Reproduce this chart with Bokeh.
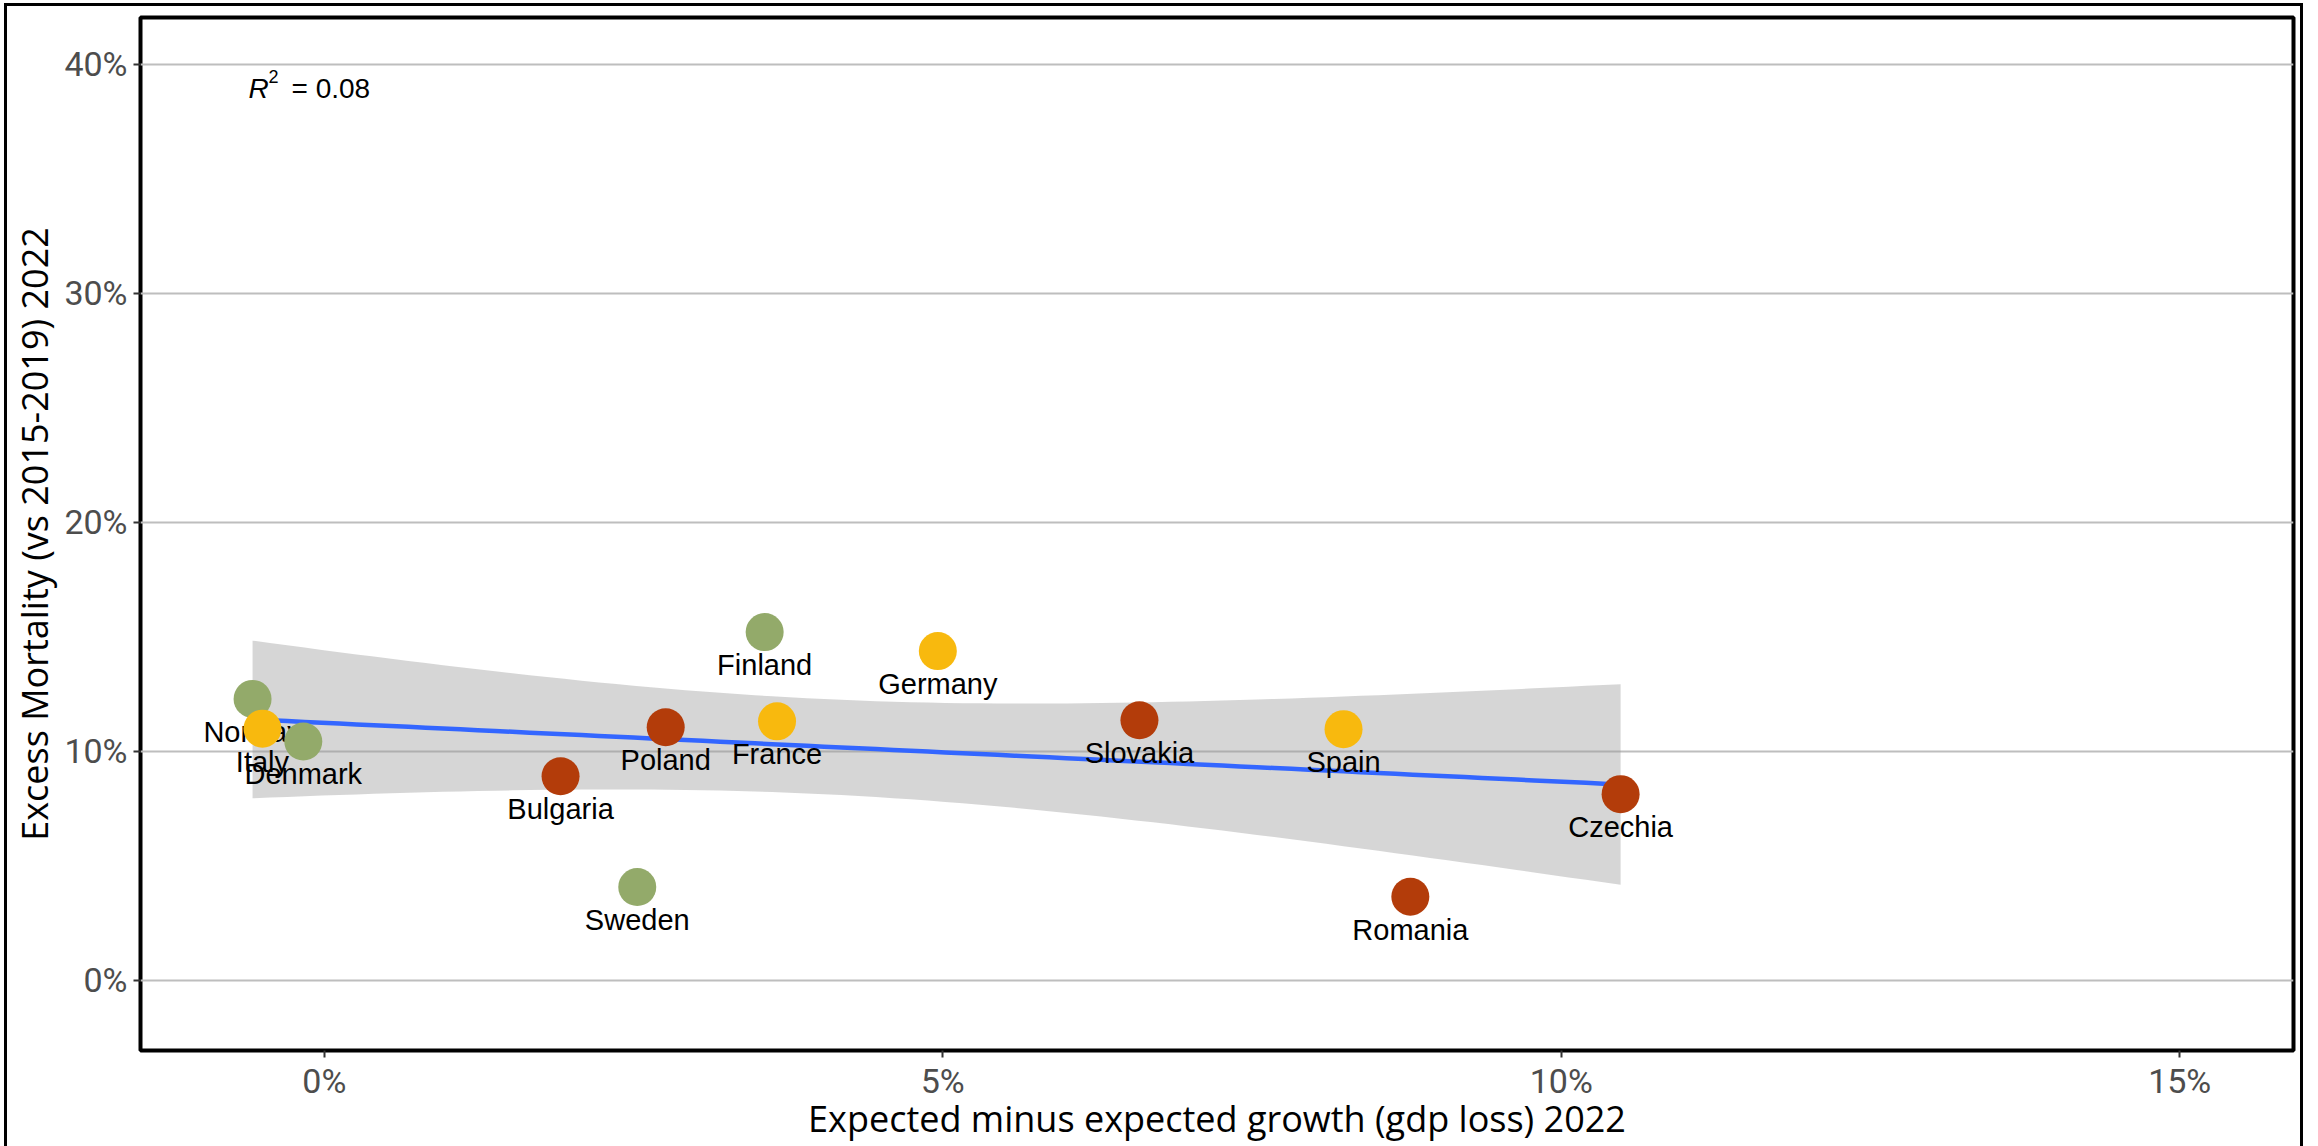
import numpy as np
from bokeh.plotting import figure
from bokeh.models import Range1d, FixedTicker, PrintfTickFormatter, ColumnDataSource
from bokeh.core.properties import value
from bokeh.embed import file_html
from bokeh.resources import INLINE

# ---------------- data ----------------
countries = ["Norway", "Italy", "Denmark", "Bulgaria", "Sweden", "Poland", "Finland",
             "France", "Germany", "Slovakia", "Spain", "Romania", "Czechia"]
gdp_loss = [-0.58, -0.50, -0.17, 1.91, 2.53, 2.76, 3.56, 3.66, 4.96, 6.59, 8.24, 8.78, 10.48]
excess_mortality = [12.28, 10.98, 10.42, 8.90, 4.06, 11.04, 15.20, 11.30, 14.37, 11.35, 10.96, 3.64, 8.12]
region = ["Nordic", "Western", "Nordic", "Eastern", "Nordic", "Eastern", "Nordic",
          "Western", "Western", "Eastern", "Western", "Eastern", "Eastern"]
region_colors = {"Nordic": "#93AA6A", "Western": "#F8B90E", "Eastern": "#B33C0A"}
x_ticks = [0, 5, 10, 15]
y_ticks = [0, 10, 20, 30, 40]
x_title = "Expected minus expected growth (gdp loss) 2022"
y_title = "Excess Mortality (vs 2015-2019) 2022"
T_CRIT_95_DF11 = 2.200985  # Student t quantile, 0.975, df = n - 2

# ---------------- linear fit with 95% CI ----------------
x = np.array(gdp_loss)
y = np.array(excess_mortality)
n = len(x)
slope, intercept = np.polyfit(x, y, 1)
xs = np.linspace(x.min(), x.max(), 80)
fit = intercept + slope * xs
resid = y - (intercept + slope * x)
s = np.sqrt(np.sum(resid ** 2) / (n - 2))
sxx = np.sum((x - x.mean()) ** 2)
se = s * np.sqrt(1.0 / n + (xs - x.mean()) ** 2 / sxx)
lower = fit - T_CRIT_95_DF11 * se
upper = fit + T_CRIT_95_DF11 * se
r2 = np.corrcoef(x, y)[0, 1] ** 2

src = ColumnDataSource(dict(x=gdp_loss, y=excess_mortality, name=countries,
                            color=[region_colors[r] for r in region]))

# ---------------- figure ----------------
# the figure sits inside a thin black frame drawn with CSS (left, top, right only)
p = figure(width=2299, height=1160, output_backend="svg", toolbar_location=None,
           x_range=Range1d(-1.486, 15.92), y_range=Range1d(-3.08, 42.05),
           min_border_left=128, min_border_right=13, min_border_top=11, min_border_bottom=116,
           margin=(3, 0, 0, 4),
           styles={"border-left": "3px solid black", "border-right": "3px solid black",
                   "border-top": "3px solid black"})
p.background_fill_color = "white"
p.border_fill_color = "white"
p.outline_line_color = "black"
p.outline_line_width = 4

p.xgrid.grid_line_color = None
p.ygrid.grid_line_color = "#BEBEBE"
p.ygrid.grid_line_width = 2

for ax in (p.xaxis[0], p.yaxis[0]):
    ax.axis_line_color = None
    ax.major_tick_line_color = "#333333"
    ax.major_tick_line_width = 2
    ax.major_tick_out = 7
    ax.major_tick_in = 0
    ax.minor_tick_line_color = None
    ax.major_label_text_color = "#4D4D4D"
    ax.major_label_text_font = "Roboto"
    ax.major_label_text_font_size = "34px"
    ax.axis_label_text_font = "Open Sans"
    ax.axis_label_text_font_size = "36px"
    ax.axis_label_text_font_style = "normal"
    ax.axis_label_text_color = "black"
    ax.formatter = PrintfTickFormatter(format="%d%%")

p.xaxis[0].ticker = FixedTicker(ticks=x_ticks)
p.yaxis[0].ticker = FixedTicker(ticks=y_ticks)
p.xaxis[0].axis_label = x_title
p.yaxis[0].axis_label = y_title
p.xaxis[0].major_label_standoff = 3
p.xaxis[0].axis_label_standoff = -10
p.yaxis[0].major_label_standoff = 6
p.yaxis[0].axis_label_standoff = 2

# confidence band and fit line
p.varea(x=xs, y1=lower, y2=upper, fill_color="#999999", fill_alpha=0.4)
p.line(xs, fit, line_color="#3366FF", line_width=4.5)

# country labels then points
p.text(x="x", y="y", text="name", source=src, text_font=value("Liberation Sans"),
       text_font_size="29px", text_align="center", text_baseline="alphabetic",
       y_offset=33, text_color="black")
p.scatter(x="x", y="y", source=src, size=38, fill_color="color", line_color=None)

# R^2 annotation
r2_x = float(x.min())
r2_y = 38.95
p.text(x=[r2_x], y=[r2_y], text=["R"], text_font=value("Liberation Sans"),
       text_font_size="28px", text_font_style="italic", text_align="left",
       text_baseline="alphabetic", x_offset=-4, text_color="black")
p.text(x=[r2_x], y=[r2_y], text=["2"], text_font=value("Liberation Sans"),
       text_font_size="18px", text_align="left", text_baseline="alphabetic",
       x_offset=16, y_offset=-12, text_color="black")
p.text(x=[r2_x], y=[r2_y], text=["= %.2f" % r2], text_font=value("Liberation Sans"),
       text_font_size="28px", text_align="left", text_baseline="alphabetic",
       x_offset=39, text_color="black")

open("out.html", "w").write(file_html(p, INLINE))
